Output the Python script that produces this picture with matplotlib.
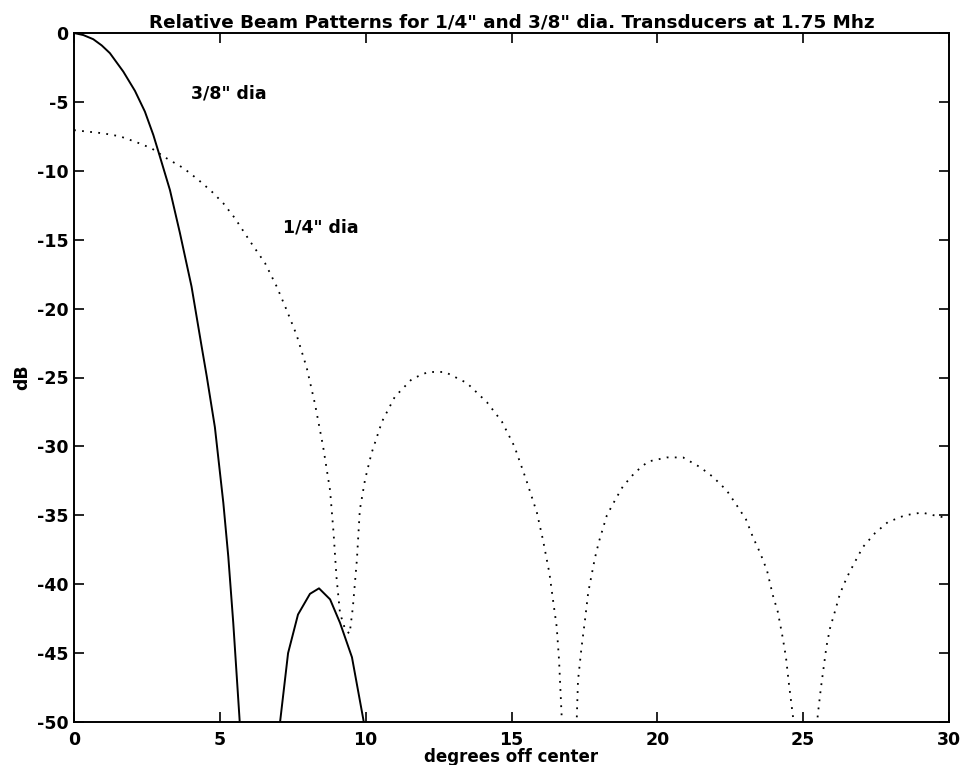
import matplotlib
matplotlib.use("Agg")
import matplotlib.pyplot as plt
import numpy as np

# ---- data ----
title = 'Relative Beam Patterns for 1/4" and 3/8" dia. Transducers at 1.75 Mhz'
xlabel = "degrees off center"
ylabel = "dB"
label_38 = '3/8" dia'
label_14 = '1/4" dia'

x_38 = [0, 0.32, 0.66, 0.95, 1.23, 1.69, 2.09, 2.43, 2.72, 2.95, 3.29, 3.63,
        4.03, 4.38, 4.55, 4.83, 5.12, 5.29, 5.46, 5.67, 5.80, 6.30, 6.90,
        7.34, 7.68, 8.09, 8.40, 8.78, 9.12, 9.53, 9.91, 10.10]
y_38 = [0, -0.15, -0.45, -0.9, -1.46, -2.8, -4.2, -5.7, -7.4, -9.0, -11.4,
        -14.5, -18.4, -22.8, -24.9, -28.6, -34.1, -38.0, -42.8, -49.6, -54.0,
        -75.0, -53.0, -45.0, -42.2, -40.7, -40.3, -41.1, -42.8, -45.3, -49.7,
        -52.0]

x_14 = [0, 1.00, 1.58, 2.15, 2.66, 3.18, 3.75, 4.26, 4.72, 5.12, 5.52, 6.03,
        6.55, 6.95, 7.29, 7.63, 7.98, 8.26, 8.54, 8.78, 8.90, 9.00, 9.12,
        9.30, 9.45, 9.56, 9.70, 9.80, 9.98, 10.20, 10.56, 11.00, 11.59,
        12.14, 12.72, 13.47, 14.16, 14.67, 15.10, 15.50, 15.87, 16.08,
        16.30, 16.42, 16.55, 16.63, 16.72, 17.00, 17.24, 17.28, 17.40,
        17.52, 17.63, 17.86, 18.00, 18.27, 18.55, 18.82, 19.23, 19.68,
        20.33, 20.88, 21.46, 21.90, 22.38, 22.73, 23.04, 23.28, 23.52,
        23.76, 23.96, 24.13, 24.30, 24.41, 24.51, 24.65, 25.10, 25.50,
        25.61, 25.80, 25.92, 26.10, 26.26, 26.50, 26.77, 27.05, 27.46,
        27.90, 28.49, 29.07, 29.69, 30.00]
y_14 = [-7.05, -7.28, -7.5, -7.93, -8.37, -9.1, -9.8, -10.65, -11.5, -12.36,
        -13.45, -15.1, -16.7, -18.4, -20.1, -21.9, -24.3, -26.9, -30.0,
        -33.2, -36.3, -39.5, -42.1, -43.3, -43.6, -41.7, -38.2, -34.6,
        -32.4, -30.5, -28.2, -26.4, -25.1, -24.6, -24.6, -25.4, -26.8,
        -28.2, -30.0, -32.4, -34.8, -36.8, -39.2, -41.1, -43.1, -45.5,
        -49.6, -62.0, -49.6, -47.0, -44.6, -42.6, -40.6, -38.1, -36.9,
        -35.0, -33.9, -32.9, -31.9, -31.1, -30.8, -30.8, -31.5, -32.2,
        -33.2, -34.3, -35.3, -36.6, -37.7, -39.0, -40.8, -42.0, -43.9,
        -45.3, -47.2, -49.6, -62.0, -49.5, -47.5, -44.5, -43.2, -41.9,
        -40.7, -39.5, -38.4, -37.3, -36.3, -35.5, -35.0, -34.8, -35.1,
        -35.2]

x_ticks = [0, 5, 10, 15, 20, 25, 30]
y_ticks = [-50, -45, -40, -35, -30, -25, -20, -15, -10, -5, 0]

# ---- figure ----
plt.rcParams['font.family'] = ['DejaVu Sans']
plt.rcParams['font.weight'] = 'bold'

fig = plt.figure(figsize=(9.64, 7.65), dpi=100)
ax = fig.add_axes([74 / 964, 1 - 722 / 765, (949 - 74) / 964, (722 - 33) / 765])

ax.plot(x_38, y_38, color='black', lw=1.4, solid_joinstyle='round')
ax.plot(x_14, y_14, color='black', lw=1.3, linestyle=(0, (1, 3.5)))

ax.set_xlim(0, 30)
ax.set_ylim(-50, 0)
ax.set_xticks(x_ticks)
ax.set_yticks(y_ticks)
ax.set_xticklabels([str(v) for v in x_ticks])
ax.set_yticklabels([str(v) for v in y_ticks])

ax.tick_params(direction='in', length=7, width=1.2, top=True, right=True,
               labelsize=12.5, colors='black')
ax.tick_params(axis='x', pad=6.5)
ax.tick_params(axis='y', pad=4)
for s in ax.spines.values():
    s.set_linewidth(1.4)
    s.set_color('black')

ax.set_title(title, fontsize=13.2, fontweight='bold', pad=4)
ax.set_xlabel(xlabel, fontsize=12, fontweight='bold', va='top')
ax.xaxis.set_label_coords(0.5, (722 - 748) / 689)
ax.set_ylabel(ylabel, fontsize=12.5, fontweight='bold', labelpad=4)

ax.text(4.0, -4.4, label_38, fontsize=12.5, fontweight='bold', va='center', ha='left')
ax.text(7.16, -14.15, label_14, fontsize=12.5, fontweight='bold', va='center', ha='left')

fig.savefig('out.png', dpi=100)
